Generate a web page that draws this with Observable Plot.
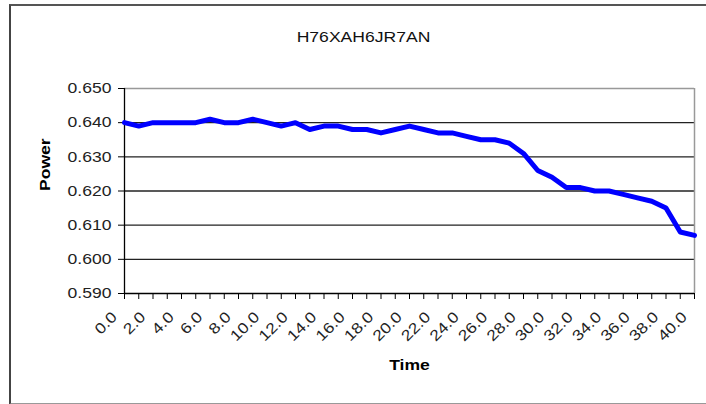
<!DOCTYPE html>
<html>
<head>
<meta charset="utf-8">
<script src="https://cdn.jsdelivr.net/npm/d3@7"></script>
<script src="https://cdn.jsdelivr.net/npm/@observablehq/plot@0.6"></script>
<style>
  html, body { margin: 0; padding: 0; background: #fff; }
  #wrap { position: relative; width: 706px; height: 404px; overflow: hidden; }
  #border { position: absolute; left: 9px; top: 4px; width: 720px; height: 397px;
            border-left: 2px solid #444; border-top: 2px solid #555; border-bottom: 2px solid #999; }
  #chart { position: absolute; left: 0; top: 0; }
</style>
</head>
<body>
<div id="wrap"><div id="border"></div><div id="chart"></div></div>
<script>
const title = "H76XAH6JR7AN";
const xLabel = "Time";
const yLabel = "Power";
const time = [0,1,2,3,4,5,6,7,8,9,10,11,12,13,14,15,16,17,18,19,20,21,22,23,24,25,26,27,28,29,30,31,32,33,34,35,36,37,38,39,40];
const power = [0.640,0.639,0.640,0.640,0.640,0.640,0.641,0.640,0.640,0.641,0.640,0.639,0.640,0.638,0.639,0.639,0.638,0.638,0.637,0.638,0.639,0.638,0.637,0.637,0.636,0.635,0.635,0.634,0.631,0.626,0.624,0.621,0.621,0.620,0.620,0.619,0.618,0.617,0.615,0.608,0.607];
const yTicks = [0.590,0.600,0.610,0.620,0.630,0.640,0.650];
const innerGrid = [0.600,0.610,0.620,0.630,0.640];
const xLabelTicks = [0,2,4,6,8,10,12,14,16,18,20,22,24,26,28,30,32,34,36,38,40];

const data = time.map((t, i) => ({t, p: power[i]}));
const font = "Liberation Sans, Arial, Helvetica, sans-serif";

const chart = Plot.plot({
  width: 706,
  height: 404,
  marginLeft: 124,
  marginRight: 12,
  marginTop: 88,
  marginBottom: 111,
  style: {fontFamily: font, fontSize: "15px", background: "transparent", color: "#000"},
  x: {domain: [0, 40], axis: null},
  y: {domain: [0.59, 0.65], axis: null},
  marks: [
    Plot.ruleY(innerGrid, {stroke: "#222", strokeWidth: 1.3}),
    Plot.ruleY([0.65], {stroke: "#999", strokeWidth: 1.5}),
    Plot.ruleX([40], {stroke: "#999", strokeWidth: 1.5}),
    Plot.axisY({ticks: yTicks, tickFormat: d3.format(".3f"), tickSize: 6, tickPadding: 7,
      fontSize: 15, stroke: "#000", fill: "#222", label: null}),
    Plot.axisX({ticks: time, tickFormat: () => "", tickSize: 6, stroke: "#000", label: null}),
    Plot.axisX({ticks: xLabelTicks, tickFormat: d => d.toFixed(1), tickSize: 0,
      tickPadding: 21, tickRotate: -45, dx: -10, fontSize: 15, fill: "#222", label: null}),
    Plot.ruleX([0], {stroke: "#000", strokeWidth: 1.3}),
    Plot.ruleY([0.59], {stroke: "#000", strokeWidth: 1.3}),
    Plot.line(data, {x: "t", y: "p", stroke: "#0000ff", strokeWidth: 5, strokeLinejoin: "round", strokeLinecap: "round"}),
    Plot.text([title], {text: d => d, frameAnchor: "top", lineAnchor: "middle", dx: -46, dy: -51, fontSize: 15, fill: "#111"}),
    Plot.text([xLabel], {text: d => d, frameAnchor: "bottom", lineAnchor: "middle", dy: 72, fontSize: 15, fontWeight: "bold"}),
    Plot.text([yLabel], {text: d => d, frameAnchor: "left", lineAnchor: "middle", dx: -79, rotate: -90, fontSize: 15, fontWeight: "bold"})
  ]
});
document.getElementById("chart").appendChild(chart);
// reference text is horizontally stretched
chart.querySelectorAll("text").forEach(t => {
  const len = t.getComputedTextLength();
  if (len > 0) {
    t.setAttribute("textLength", (len * 1.17).toFixed(2));
    t.setAttribute("lengthAdjust", "spacingAndGlyphs");
  }
});
</script>
</body>
</html>
